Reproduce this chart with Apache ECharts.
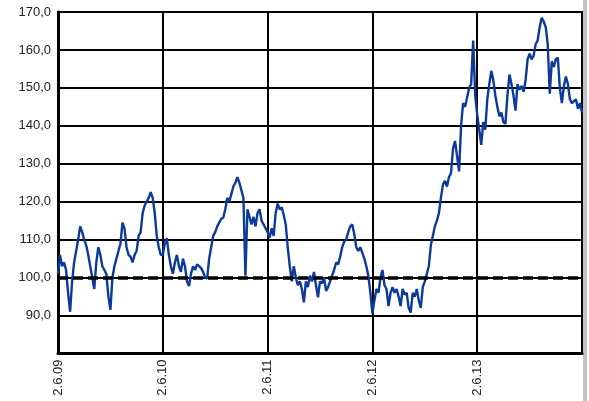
<!DOCTYPE html>
<html><head><meta charset="utf-8">
<script src="https://cdn.jsdelivr.net/npm/echarts@6/dist/echarts.min.js"></script>
<style>html,body{margin:0;padding:0;background:#fff}#c{width:589px;height:401px}</style>
</head><body><div id="c"></div>
<script>
const tickLabels = ['2.6.09','2.6.10','2.6.11','2.6.12','2.6.13'];
const tickIndex = [0, 52, 104, 156, 208];
const yTicks = [80, 90, 100, 110, 120, 130, 140, 150, 160, 170];
const baseline = 100;

const year1 = [101,106,103,104,102,96,91,99,104,107,110,113.5,112,110,108.5,106,103,100,97,104,108,106,103,102,101,95,91.5,100,103,105,107,109,114.5,113,108,106,105.5,104,106,107,111,112,117,119,120,121,122.5,121,117,111,108,106];
const year2 = [106,109,110.4,106,103,101,104,106,103,101.5,105,103,99,97.8,101,103,102,103.5,103,102.5,101.5,100,99.8,105,108,111,112,113.5,114.5,115.5,115.8,118,121,120,122,124,125,126.5,125,123,121,100.5,118,116,114,116,113.5,117,118,115,114,113];
const year3 = [112,110.5,113,111,117,119.5,118,118.5,116.5,114,108,103,99,103,100,98,99,97,93.5,99,97.5,100.5,99,101.5,98,94.8,99,98.5,100,96.5,97.5,99,100.5,102,104,103.5,105.5,108,109.5,110,112,113.5,114,111.5,108,107,108,106.5,105,103,100.5,96];
const year4 = [90.5,94,97,96,100,102,98,97,92.5,96,97.5,96,97,95,92.5,97,95.5,96,92,90.8,96,95,97,94,92,97.5,99,101,103,108.5,111,113.5,115,117,121,124.5,125.5,124,126.5,127.5,134,136,132,128,140,146,145,147.5,150,151,162.5,148];
const year5 = [143,139,135,141,139,147,151,154.5,152,148,145,142.5,143.5,141,140.5,148,153.5,151,148,144,151,149.5,150.5,149,152,157.5,159,157.5,158.5,161.5,162.5,166,168.5,167.5,166,161.5,148.5,157,155.5,157.5,158,150,146,150.5,153,151,147,146,146.5,147,144.5,146,143.5];

const values = [].concat(year1, year2, year3, year4, year5);
const categories = values.map((v, i) => 'W' + i);

const chart = echarts.init(document.getElementById('c'), null, {renderer: 'canvas'});
const font = 'Liberation Sans, Arial, sans-serif';
chart.setOption({
  animation: false,
  grid: {left: 58, right: 7, top: 12, bottom: 47.5, show: true, borderColor: '#000', borderWidth: 2, backgroundColor: '#fff'},
  xAxis: {
    type: 'category', data: categories, boundaryGap: false,
    axisLine: {show: true, lineStyle: {color: '#000', width: 3}},
    axisTick: {show: false},
    axisLabel: {
      interval: (i) => tickIndex.includes(i),
      formatter: (v, i) => { const k = tickIndex.indexOf(i); return k >= 0 ? tickLabels[k] : ''; },
      rotate: 90, fontSize: 13, color: '#222', fontFamily: font, margin: 6
    },
    splitLine: {show: true, interval: (i) => tickIndex.includes(i), lineStyle: {color: '#000', width: 2}}
  },
  yAxis: {
    type: 'value', min: yTicks[0], max: yTicks[yTicks.length - 1], interval: 10,
    axisLine: {show: true, lineStyle: {color: '#000', width: 3}},
    axisTick: {show: false},
    axisLabel: {
      formatter: (v) => v === yTicks[0] ? '' : v.toFixed(1).replace('.', ','),
      fontSize: 13, color: '#222', fontFamily: font, margin: 7
    },
    splitLine: {show: true, lineStyle: {color: '#000', width: 2}}
  },
  series: [{
    type: 'line', data: values, showSymbol: false, symbol: 'none',
    lineStyle: {color: '#0b3a9a', width: 2.4},
    markLine: {
      silent: true, symbol: 'none', label: {show: false}, animation: false,
      lineStyle: {color: '#000', width: 3.5, type: [10, 5]},
      data: [{yAxis: baseline}]
    }
  }],
  graphic: [{type: 'rect', shape: {x: 583, y: 0, width: 4, height: 401}, style: {fill: '#c4c4c4'}, silent: true}]
});
</script>
</body></html>
